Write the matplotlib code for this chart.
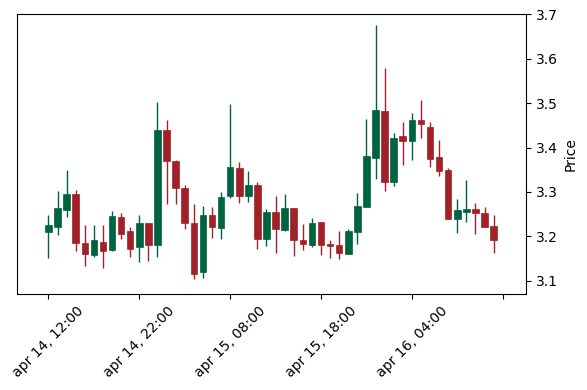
import matplotlib
matplotlib.use('Agg')
import matplotlib.pyplot as plt
import numpy as np
import pandas as pd

# hourly candles, apr 14 12:00 -> apr 16 13:00
times = pd.date_range('2024-04-14 12:00', periods=50, freq='h')

opens = [3.209, 3.222, 3.259, 3.295, 3.186, 3.159, 3.188, 3.170, 3.243, 3.211,
         3.177, 3.229, 3.180, 3.440, 3.370, 3.308, 3.229, 3.119, 3.249, 3.218,
         3.291, 3.354, 3.291, 3.315, 3.193, 3.255, 3.214, 3.263, 3.191, 3.180,
         3.232, 3.182, 3.180, 3.161, 3.209, 3.266, 3.376, 3.483, 3.323, 3.426,
         3.415, 3.462, 3.447, 3.379, 3.350, 3.239, 3.255, 3.261, 3.252, 3.223]
highs = [3.249, 3.302, 3.349, 3.304, 3.225, 3.225, 3.225, 3.256, 3.252, 3.222,
         3.249, 3.230, 3.502, 3.463, 3.372, 3.316, 3.272, 3.268, 3.265, 3.300,
         3.499, 3.367, 3.346, 3.323, 3.261, 3.291, 3.296, 3.264, 3.228, 3.242,
         3.233, 3.191, 3.212, 3.216, 3.298, 3.464, 3.677, 3.580, 3.432, 3.457,
         3.478, 3.507, 3.457, 3.416, 3.353, 3.283, 3.327, 3.276, 3.265, 3.249]
lows = [3.152, 3.204, 3.243, 3.166, 3.132, 3.154, 3.129, 3.168, 3.195, 3.154,
        3.143, 3.145, 3.154, 3.272, 3.272, 3.216, 3.104, 3.106, 3.197, 3.193,
        3.287, 3.274, 3.278, 3.172, 3.179, 3.163, 3.212, 3.155, 3.170, 3.175,
        3.157, 3.151, 3.148, 3.160, 3.182, 3.265, 3.330, 3.301, 3.313, 3.360,
        3.371, 3.421, 3.357, 3.335, 3.238, 3.208, 3.233, 3.206, 3.221, 3.163]
closes = [3.225, 3.263, 3.295, 3.186, 3.161, 3.191, 3.168, 3.245, 3.206, 3.172,
          3.229, 3.181, 3.440, 3.370, 3.308, 3.229, 3.115, 3.247, 3.221, 3.289,
          3.356, 3.291, 3.315, 3.193, 3.255, 3.216, 3.263, 3.191, 3.182, 3.231,
          3.180, 3.178, 3.162, 3.211, 3.268, 3.381, 3.485, 3.323, 3.422, 3.415,
          3.462, 3.452, 3.375, 3.348, 3.239, 3.259, 3.261, 3.252, 3.222, 3.191]

tick_idx = [0, 10, 20, 30, 40, 50]
tick_labels = ['apr 14, 12:00', 'apr 14, 22:00', 'apr 15, 08:00',
               'apr 15, 18:00', 'apr 16, 04:00', '']

up_color = '#006340'
down_color = '#a02128'

o = np.array(opens)
h = np.array(highs)
l = np.array(lows)
c = np.array(closes)
x = np.arange(len(times))
colors = np.where(c >= o, up_color, down_color)

fig = plt.figure(figsize=(5.87, 3.9), dpi=100)
ax = fig.add_axes([0.0284, 0.2469, 0.8682, 0.7164])

ax.vlines(x, l, h, colors=colors, linewidth=1.0, zorder=1)
ax.bar(x, c - o, bottom=o, width=0.72, color=colors, edgecolor=colors,
       linewidth=0.5, zorder=2)

ax.set_xlim(-3.5, 52.6)
ax.set_ylim(3.0707, 3.7)
ax.set_yticks([3.1, 3.2, 3.3, 3.4, 3.5, 3.6, 3.7])

ax.set_xticks(tick_idx)
ax.set_xticklabels(tick_labels, rotation=45, ha='center')

ax.yaxis.tick_right()
ax.yaxis.set_label_position('right')
ax.set_ylabel('Price')

plt.savefig('out.png', dpi=100)
